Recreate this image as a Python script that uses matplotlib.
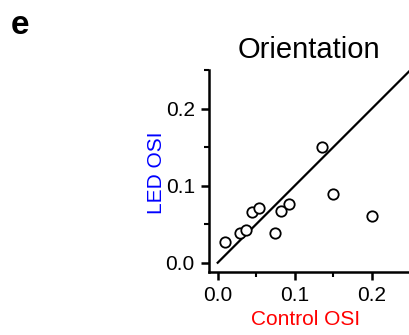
import matplotlib
matplotlib.use("Agg")
import matplotlib.pyplot as plt
from matplotlib.ticker import MultipleLocator

plt.rcParams['font.family'] = ['Liberation Sans', 'DejaVu Sans']

control_osi = [0.010, 0.029, 0.037, 0.045, 0.054, 0.075, 0.082, 0.092, 0.136, 0.150, 0.201]
led_osi = [0.027, 0.038, 0.042, 0.066, 0.071, 0.039, 0.067, 0.076, 0.150, 0.089, 0.061]
unity = [0.0, 0.3]
xticks = [0.0, 0.1, 0.2]
yticks = [0.0, 0.1, 0.2]
tick_labels = ["0.0", "0.1", "0.2"]

fig = plt.figure(figsize=(4.1, 3.35), dpi=100)
ax = fig.add_axes([0.509, 0.188, 0.491, 0.603])

ax.plot(unity, unity, color='black', lw=1.6, zorder=2)
ax.scatter(control_osi, led_osi, s=56, facecolors='white', edgecolors='black',
           linewidths=1.3, zorder=3)

ax.set_xlim(-0.0117, 0.2497)
ax.set_ylim(-0.0121, 0.2503)
ax.set_xticks(xticks)
ax.set_xticklabels(tick_labels)
ax.set_yticks(yticks)
ax.set_yticklabels(tick_labels)
ax.xaxis.set_minor_locator(MultipleLocator(0.05))
ax.yaxis.set_minor_locator(MultipleLocator(0.05))
ax.tick_params(which='major', direction='out', length=6, width=1.8, labelsize=15, pad=4)
ax.tick_params(which='minor', direction='out', length=3.5, width=1.5)

for s in ['top', 'right']:
    ax.spines[s].set_visible(False)
for s in ['left', 'bottom']:
    ax.spines[s].set_linewidth(1.8)

ax.set_xlabel("Control OSI", color='red', fontsize=15)
ax.set_ylabel("LED OSI", color='blue', fontsize=15)
ax.xaxis.set_label_coords(0.483, -0.19)
ax.yaxis.set_label_coords(-0.21, 0.49)

ax.set_title("Orientation", fontsize=21, pad=9)
fig.text(0.027, 0.9, "e", fontsize=24, fontweight='bold')

fig.savefig("out.png", dpi=100)
